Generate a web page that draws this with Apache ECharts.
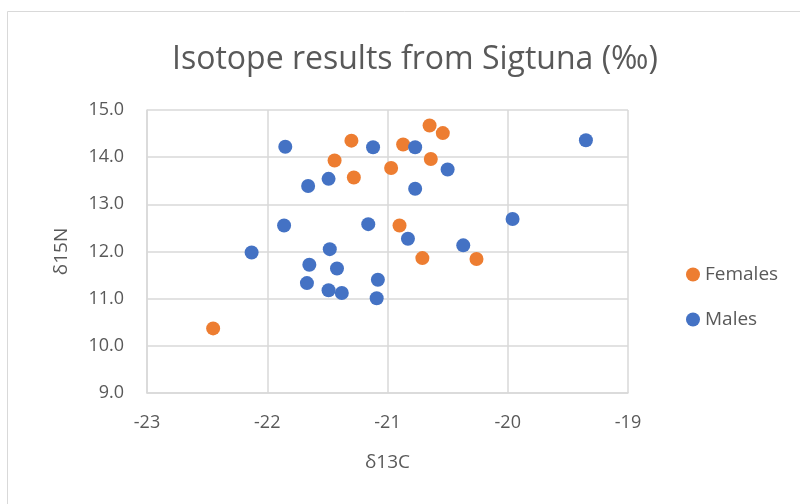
<!DOCTYPE html>
<html>
<head>
<meta charset="utf-8">
<script src="https://cdn.jsdelivr.net/npm/echarts@6/dist/echarts.min.js"></script>
<style>
  html, body { margin: 0; padding: 0; background: #fff; }
  #chart { width: 800px; height: 504px; }
</style>
</head>
<body>
<div id="chart"></div>
<script>
// δ13C / δ15N values
const females = [
  [-21.30, 14.35], [-21.44, 13.93], [-21.28, 13.57], [-20.65, 14.67],
  [-20.54, 14.51], [-20.87, 14.27], [-20.64, 13.96], [-20.97, 13.77],
  [-20.90, 12.55], [-22.45, 10.37], [-20.71, 11.86], [-20.26, 11.84]
]
const males = [
  [-21.85, 14.22], [-21.12, 14.21], [-21.49, 13.54], [-21.66, 13.39],
  [-21.86, 12.55], [-21.16, 12.58], [-20.77, 14.21], [-20.50, 13.74],
  [-20.77, 13.33], [-19.35, 14.36], [-19.96, 12.69], [-20.83, 12.27],
  [-20.37, 12.13], [-22.13, 11.98], [-21.48, 12.05], [-21.65, 11.72],
  [-21.42, 11.64], [-21.67, 11.33], [-21.49, 11.18], [-21.38, 11.12],
  [-21.08, 11.40], [-21.09, 11.01]
]
const seriesNames = ['Females', 'Males']

const font = '"Open Sans", "Noto Sans", sans-serif'
const textColor = '#595959'
const gridColor = '#d9d9d9'

const chart = echarts.init(document.getElementById('chart'))
chart.setOption({
  backgroundColor: '#fff',
  animation: false,
  textStyle: { fontFamily: font },
  title: {
    text: 'Isotope results from Sigtuna (‰)',
    left: 410,
    top: 39,
    textAlign: 'center',
    textStyle: {
      fontFamily: font,
      fontSize: 32,
      fontWeight: 'normal',
      color: textColor
    }
  },
  legend: {
    orient: 'vertical',
    left: 681,
    top: 260,
    itemGap: 26,
    itemWidth: 14,
    itemHeight: 14,
    icon: 'circle',
    textStyle: { fontFamily: font, fontSize: 19, color: textColor },
    data: seriesNames
  },
  graphic: [{
    type: 'rect',
    shape: { x: 7.5, y: 11.5, width: 900, height: 600 },
    style: { fill: 'none', stroke: gridColor, lineWidth: 1 },
    silent: true
  }],
  grid: {
    left: 147,
    right: 172,
    top: 110,
    bottom: 111
  },
  xAxis: {
    type: 'value',
    min: -23,
    max: -19,
    interval: 1,
    name: 'δ13C',
    nameLocation: 'middle',
    nameGap: 60,
    nameTextStyle: { fontFamily: font, fontSize: 19, color: textColor },
    axisLine: { show: true, onZero: false, lineStyle: { color: gridColor, width: 1.5 } },
    axisTick: { show: false },
    axisLabel: { fontFamily: font, fontSize: 18, color: textColor, margin: 21 },
    splitLine: { show: true, lineStyle: { color: gridColor, width: 1.5 } }
  },
  yAxis: {
    type: 'value',
    min: 9,
    max: 15,
    interval: 1,
    name: 'δ15N',
    nameLocation: 'middle',
    nameGap: 76,
    nameRotate: 90,
    nameTextStyle: { fontFamily: font, fontSize: 19, color: textColor },
    axisLine: { show: true, onZero: false, lineStyle: { color: gridColor, width: 1.5 } },
    axisTick: { show: false },
    axisLabel: {
      fontFamily: font,
      fontSize: 18,
      color: textColor,
      margin: 23,
      formatter: v => v.toFixed(1)
    },
    splitLine: { show: true, lineStyle: { color: gridColor, width: 1.5 } }
  },
  series: [
    {
      name: seriesNames[0],
      type: 'scatter',
      symbolSize: 14,
      itemStyle: { color: '#ed7d31', opacity: 1 },
      data: females
    },
    {
      name: seriesNames[1],
      type: 'scatter',
      symbolSize: 14,
      itemStyle: { color: '#4472c4', opacity: 1 },
      data: males
    }
  ]
})
</script>
</body>
</html>
